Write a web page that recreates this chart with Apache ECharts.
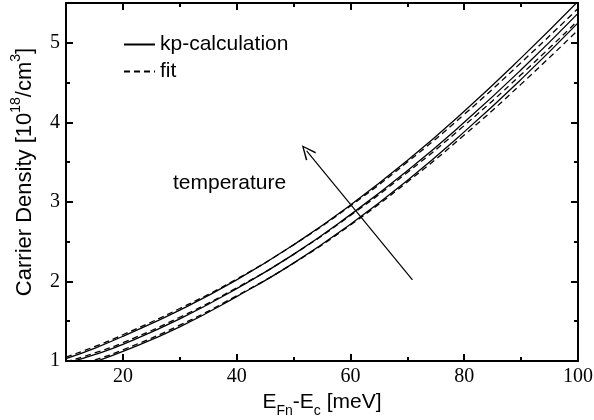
<!DOCTYPE html>
<html>
<head>
<meta charset="utf-8">
<script src="https://cdn.jsdelivr.net/npm/echarts@6/dist/echarts.min.js"></script>
<style>
  html, body { margin: 0; padding: 0; background: #fff; }
  #chart { width: 594px; height: 420px; }
</style>
</head>
<body>
<div id="chart"></div>
<script>
  // E_Fn - E_c [meV]
  var xs = [10, 15, 20, 30, 40, 50, 60, 70, 80, 90, 100];
  // carrier density [1e18 / cm^3], three temperatures
  var kpHigh = [1.03, 1.16, 1.31, 1.64, 2.02, 2.46, 2.96, 3.52, 4.14, 4.81, 5.52];
  var kpMid  = [0.97, 1.08, 1.21, 1.53, 1.91, 2.34, 2.84, 3.39, 4.00, 4.66, 5.37];
  var kpLow  = [0.88, 0.99, 1.12, 1.43, 1.81, 2.23, 2.72, 3.27, 3.88, 4.54, 5.25];
  var fitHigh = [1.05, 1.18, 1.33, 1.66, 2.03, 2.46, 2.95, 3.50, 4.10, 4.75, 5.43];
  var fitMid  = [0.99, 1.10, 1.23, 1.55, 1.92, 2.34, 2.83, 3.37, 3.96, 4.60, 5.28];
  var fitLow  = [0.90, 1.01, 1.14, 1.45, 1.82, 2.23, 2.71, 3.25, 3.84, 4.48, 5.16];

  var xMajor = [20, 40, 60, 80, 100];
  var xMinor = [30, 50, 70, 90];
  var yMajor = [1, 2, 3, 4, 5];
  var yMinor = [1.5, 2.5, 3.5, 4.5];

  // temperature arrow (data coords): tail -> head
  var arrowFrom = [70.9, 2.02];
  var arrowTo = [52.3, 3.64];

  function pairs(ys) {
      return xs.map(function (x, i) { return [x, ys[i]]; });
  }

  function mkSeries(name, ys, dashed) {
      return {
          name: name,
          type: 'line',
          data: pairs(ys),
          smooth: true,
          symbol: 'none',
          color: '#000',
          lineStyle: { color: '#000', width: 1.3, type: dashed ? [6, 4] : 'solid' }
      };
  }

  function mkAxis(pos, ticks, len, labels, line) {
      return {
          type: 'value',
          position: pos,
          min: pos == 'bottom' || pos == 'top' ? 10 : 1,
          max: pos == 'bottom' || pos == 'top' ? 100 : 5.5,
          splitLine: { show: false },
          axisLine: { show: line, onZero: false, lineStyle: { color: '#000', width: 2 } },
          axisTick: { show: true, inside: true, length: len, customValues: ticks,
                      lineStyle: { color: '#000', width: 2 } },
          axisLabel: { show: labels, customValues: ticks, margin: 6,
                       fontFamily: 'Liberation Serif', fontSize: 20, color: '#000' }
      };
  }

  var dom = document.getElementById('chart');
  var myChart = echarts.init(dom);

  var xBottom = mkAxis('bottom', xMajor, 7, true, true);
  xBottom.name = '{n|E}{sub|Fn}{n|-E}{sub|c}{n| [meV]}';
  xBottom.nameLocation = 'middle';
  xBottom.nameGap = 23;
  xBottom.nameTextStyle = {
      rich: {
          n: { fontFamily: 'Liberation Sans', fontSize: 21, color: '#000', lineHeight: 26, verticalAlign: 'top' },
          sub: { fontFamily: 'Liberation Sans', fontSize: 14, color: '#000', lineHeight: 26, verticalAlign: 'bottom' }
      }
  };

  var yLeft = mkAxis('left', yMajor, 7, true, true);
  yLeft.name = '{n|Carrier Density [10}{sup|18}{n|/cm}{sup|3}{n|]}';
  yLeft.nameLocation = 'middle';
  yLeft.nameGap = 30;
  yLeft.nameTextStyle = {
      padding: [0, 0, 0, 20],
      rich: {
          n: { fontFamily: 'Liberation Sans', fontSize: 22, color: '#000', lineHeight: 27, verticalAlign: 'bottom' },
          sup: { fontFamily: 'Liberation Sans', fontSize: 14, color: '#000', lineHeight: 27, verticalAlign: 'top' }
      }
  };

  var option = {
      animation: false,
      backgroundColor: '#fff',
      grid: { left: 66, right: 16, top: 3, bottom: 59, outerBoundsMode: 'none' },
      legend: {
          orient: 'vertical',
          left: 118,
          top: 29,
          itemWidth: 31,
          itemHeight: 14,
          itemGap: 6,
          data: ['kp-calculation', 'fit'],
          itemStyle: { opacity: 0 },
          textStyle: { fontFamily: 'Liberation Sans', fontSize: 21, color: '#000' }
      },
      xAxis: [
          xBottom,
          mkAxis('bottom', xMinor, 4, false, false),
          mkAxis('top', xMajor, 7, false, true),
          mkAxis('top', xMinor, 4, false, false)
      ],
      yAxis: [
          yLeft,
          mkAxis('left', yMinor, 4, false, false),
          mkAxis('right', yMajor, 7, false, true),
          mkAxis('right', yMinor, 4, false, false)
      ],
      graphic: [{
          type: 'text',
          left: 173,
          top: 173,
          style: { text: 'temperature', fontFamily: 'Liberation Sans', fontSize: 21, fill: '#000' }
      }],
      series: [
          mkSeries('kp-calculation', kpHigh, false),
          mkSeries('kp-calculation', kpMid, false),
          mkSeries('kp-calculation', kpLow, false),
          mkSeries('fit', fitHigh, true),
          mkSeries('fit', fitMid, true),
          mkSeries('fit', fitLow, true),
          {
              type: 'line',
              data: [],
              markLine: {
                  silent: true,
                  symbol: ['none', 'path://M5,0 L10,10 L9,10.6 L5,2.2 L1,10.6 L0,10 Z'],
                  symbolSize: [13, 15],
                  label: { show: false },
                  lineStyle: { color: '#000', width: 1.2, type: 'solid' },
                  data: [[{ coord: arrowFrom }, { coord: arrowTo }]]
              }
          }
      ]
  };
  myChart.setOption(option, true);
</script>
</body>
</html>
